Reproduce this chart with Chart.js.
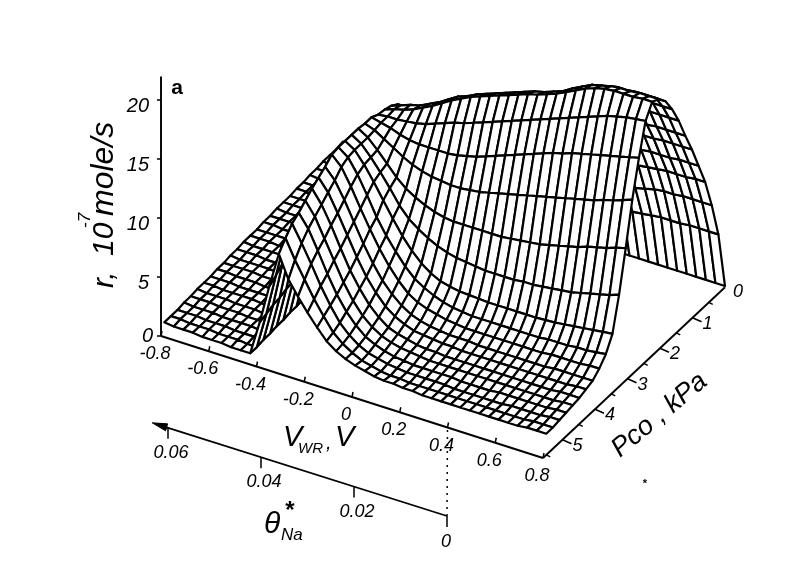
<!DOCTYPE html>
<html lang="en">
<head>
    <meta charset="UTF-8" />
    <title>r vs VWR and Pco</title>
    <script src="https://cdn.jsdelivr.net/npm/chart.js"></script>
    <style>
        html, body { margin: 0; background: #fff; }
        canvas { display: block; }
    </style>
</head>
<body>
    <canvas id="surface" width="789" height="578"></canvas>

    <script>
        const vwrTicks = [-0.8, -0.6, -0.4, -0.2, 0, 0.2, 0.4, 0.6, 0.8];
        const vwrLabels = ["-0.8", "-0.6", "-0.4", "-0.2", "0", "0.2", "0.4", "0.6", "0.8"];
        const pcoTicks = [0, 1, 2, 3, 4, 5];
        const pcoMinorTicks = [0.5, 1.5, 2.5, 3.5, 4.5, 5.5];
        const rateTicks = [0, 5, 10, 15, 20];
        const thetaTicks = [0, 0.02, 0.04, 0.06];
        const thetaLabels = ["0", "0.02", "0.04", "0.06"];

        // mesh: columns are VWR -0.8 to 0.8 (41), rows are Pco 0 to 5.5 kPa (28)
        const vwrFirst = -0.8, vwrStep = 0.04;
        const pcoStep = 5.5 / 27;
        const rates = [
            [2,2,1.9,1.9,1.9,1.8,1.8,1.8,1.7,1.7,1.5,1.1,0.8,0.6,0.5,0.4,0.3,0.3,0.2,0.2,0.2,0.1,0.1,0.1,0.1,0.1,0.1,0.1,0.1,0.1,0.1,0.1,0.1,0.1,0.1,0.1,0.1,0.1,0.1,0.1,0.1],
            [1.9,1.9,1.9,1.8,1.8,1.8,1.7,1.7,1.7,1.7,2,2.5,2.9,3,3,3,3.1,3.2,3.3,3.4,3.5,3.6,3.7,3.8,3.9,4,4,4.1,4.2,4.3,4.5,4.6,4.7,4.8,4.9,4.9,4.9,5,5,5,5],
            [1.9,1.9,1.8,1.8,1.8,1.7,1.7,1.7,1.7,1.6,2.4,3.6,4.7,4.7,4.8,4.8,5,5.1,5.3,5.4,5.6,5.7,5.8,5.9,6,6.1,6.2,6.3,6.4,6.5,7,7.2,7.4,7.6,7.8,7.9,7.9,8,8,8,8],
            [1.9,1.8,1.8,1.8,1.7,1.7,1.7,1.7,1.6,1.6,2.8,4.5,6.2,6.2,6.2,6.3,6.5,6.7,6.9,7.1,7.3,7.5,7.6,7.7,7.9,8,8.1,8.3,8.4,8.5,9.3,9.6,9.9,10.1,10.2,10.3,10.4,10.4,10.4,10.5,10.5],
            [1.8,1.8,1.8,1.7,1.7,1.7,1.6,1.6,1.6,1.6,3,5.3,7.3,7.3,7.4,7.5,7.7,7.9,8.2,8.4,8.6,8.8,9,9.2,9.3,9.5,9.6,9.8,9.9,10,11,11.3,11.7,12,12.2,12.3,12.3,12.3,12.4,12.4,12.4],
            [1.8,1.7,1.7,1.7,1.7,1.6,1.6,1.6,1.6,1.5,3.3,6,8.4,8.5,8.5,8.6,8.9,9.1,9.4,9.7,10,10.2,10.4,10.6,10.7,10.9,11.1,11.3,11.4,11.6,12.8,13.1,13.5,13.8,14,14.2,14.2,14.3,14.3,14.3,14.3],
            [1.7,1.7,1.7,1.7,1.6,1.6,1.6,1.6,1.5,1.5,3.6,6.6,9.4,9.4,9.5,9.6,9.9,10.2,10.5,10.9,11.1,11.4,11.6,11.8,12,12.2,12.4,12.6,12.7,12.9,14.3,14.7,15.1,15.4,15.7,15.9,15.9,16,16,16,16],
            [1.7,1.7,1.6,1.6,1.6,1.6,1.5,1.5,1.5,1.5,3.9,7.3,10.5,10.6,10.7,10.8,11.1,11.4,11.8,12.2,12.5,12.8,13,13.2,13.4,13.7,13.9,14.1,14.3,14.5,16,16.4,16.8,17.2,17.5,17.7,17.7,17.8,17.8,17.8,17.8],
            [1.6,1.6,1.6,1.6,1.5,1.5,1.5,1.5,1.5,1.4,4.2,8,11.6,11.7,11.8,12,12.3,12.6,13,13.4,13.8,14.1,14.4,14.6,14.9,15.1,15.4,15.6,15.8,16,17.6,18,18.4,18.8,19.1,19.2,19.2,19.3,19.3,19.3,19.3],
            [1.6,1.6,1.6,1.5,1.5,1.5,1.5,1.4,1.4,1.4,4.5,8.8,13,13,13.1,13.3,13.7,14,14.4,14.8,15.2,15.5,15.8,16,16.3,16.6,16.8,17.1,17.3,17.5,18.8,19.2,19.6,20,20.2,20.4,20.4,20.5,20.5,20.5,20.5],
            [1.6,1.5,1.5,1.5,1.5,1.4,1.4,1.4,1.4,1.4,4.8,9.2,13.4,13.7,14,14.2,14.6,15,15.5,16,16.3,16.7,17,17.3,17.6,17.9,18.2,18.5,18.7,19,19.3,19.8,20.2,20.6,20.8,21,21.1,21.1,21.2,21.2,21.2],
            [1.5,1.5,1.5,1.5,1.4,1.4,1.4,1.4,1.3,1.3,4.9,9.5,13.6,13.9,14.1,14.4,14.8,15.2,15.7,16.2,16.6,17,17.3,17.6,17.9,18.2,18.5,18.8,19,19.3,19.6,20,20.4,20.8,21.1,21.3,21.4,21.4,21.4,21.5,21.5],
            [1.5,1.5,1.4,1.4,1.4,1.4,1.4,1.3,1.3,1.3,4.9,9.5,13.7,13.8,13.8,13.9,14,14.2,14.5,14.8,15.1,15.3,15.6,15.9,16.2,16.5,16.8,17.1,17.4,17.7,18,18.3,18.6,18.9,19.2,19.5,19.8,20,20.2,20.3,20.4],
            [1.4,1.4,1.4,1.4,1.4,1.3,1.3,1.3,1.3,1.2,4.9,9.5,14,13.8,13.6,13.3,13.1,13,13,13,13,13.1,13.3,13.5,13.8,14.1,14.4,14.7,15,15.3,15.6,15.9,16.1,16.4,16.6,16.8,17,17.2,17.4,17.6,17.8],
            [1.4,1.4,1.4,1.3,1.3,1.3,1.3,1.2,1.2,1.2,4.8,9.4,14,13.7,13.2,12.7,12.2,11.8,11.5,11.3,11.2,11.1,11.1,11.2,11.3,11.5,11.7,11.9,12.1,12.3,12.5,12.7,12.9,13.1,13.3,13.5,13.7,14,14.2,14.5,14.8],
            [1.4,1.3,1.3,1.3,1.3,1.2,1.2,1.2,1.2,1.2,4.8,9.3,14.1,13.6,12.8,11.9,11,10.3,9.8,9.4,9.1,8.9,8.8,8.8,8.8,8.8,8.8,8.8,8.9,9,9.1,9.2,9.4,9.6,9.8,10,10.3,10.5,10.7,11,11.2],
            [1.3,1.3,1.3,1.2,1.2,1.2,1.2,1.1,1.1,1.1,4.7,9.2,14.1,13.6,12.7,11.7,10.6,9.4,8.5,7.9,7.4,7,6.7,6.5,6.4,6.3,6.2,6.2,6.2,6.2,6.3,6.3,6.4,6.5,6.6,6.7,6.9,7.1,7.3,7.5,7.8],
            [1.3,1.2,1.2,1.2,1.2,1.1,1.1,1.1,1.1,1.1,4.7,9.1,14.1,13.6,12.6,11.4,10.1,8.8,7.6,6.6,5.8,5.2,4.8,4.6,4.45,4.4,4.35,4.3,4.3,4.3,4.3,4.3,4.3,4.35,4.4,4.5,4.6,4.7,4.8,4.9,5],
            [1.2,1.2,1.2,1.2,1.1,1.1,1.1,1,1,1,4.6,9,14.1,13.5,12.3,10.8,9.2,7.9,6.8,5.8,5,4.5,4.1,3.8,3.6,3.5,3.4,3.4,3.4,3.4,3.4,3.4,3.4,3.4,3.5,3.5,3.5,3.6,3.6,3.7,3.8],
            [1.2,1.2,1.1,1.1,1.1,1,1,1,1,1,4.5,9,14,13.2,11.8,10.2,8.7,7.3,6.1,5.1,4.3,3.8,3.5,3.3,3.1,3,2.9,2.9,2.9,2.9,2.9,2.9,2.9,2.9,2.9,3,3,3,3,3.1,3.1],
            [1.1,1.1,1.1,1,1,1,1,0.9,0.9,0.9,4.4,8.8,13.5,12.6,11.2,9.6,8,6.6,5.4,4.5,3.8,3.3,3,2.8,2.7,2.6,2.6,2.6,2.5,2.5,2.5,2.5,2.5,2.5,2.5,2.5,2.6,2.6,2.6,2.6,2.6],
            [1.1,1.1,1,1,1,1,0.9,0.9,0.9,0.9,4.4,8.6,13.1,12.1,10.6,9,7.4,6,4.9,4,3.4,3,2.7,2.6,2.5,2.4,2.4,2.3,2.3,2.3,2.3,2.3,2.3,2.3,2.3,2.3,2.3,2.3,2.3,2.4,2.4],
            [1.1,1,1,1,0.9,0.9,0.9,0.8,0.8,0.8,4.3,8.4,12.7,11.6,10.1,8.4,6.8,5.5,4.4,3.6,3,2.7,2.5,2.3,2.2,2.2,2.1,2.1,2.1,2.1,2.1,2.1,2.1,2.1,2.1,2.1,2.1,2.1,2.2,2.2,2.2],
            [1,1,1,0.9,0.9,0.9,0.8,0.8,0.8,0.8,4.2,8.2,12.2,11.1,9.5,7.9,6.3,5,4,3.3,2.8,2.5,2.3,2.2,2.1,2,2,2,2,2,2,2,2,2,2,2,2,2,2,2.1,2.1],
            [1,0.9,0.9,0.9,0.8,0.8,0.8,0.8,0.7,0.7,4,8,11.7,10.6,9,7.3,5.8,4.6,3.7,3,2.6,2.3,2.1,2,1.9,1.9,1.9,1.9,1.9,1.8,1.8,1.8,1.8,1.9,1.9,1.9,1.9,1.9,1.9,2,2],
            [0.9,0.9,0.9,0.8,0.8,0.8,0.7,0.7,0.7,0.7,3.9,7.7,11.3,9.9,8.4,6.8,5.4,4.2,3.4,2.8,2.4,2.2,2,1.9,1.8,1.8,1.8,1.8,1.8,1.7,1.7,1.7,1.7,1.7,1.7,1.8,1.8,1.8,1.8,1.9,1.9],
            [0.9,0.9,0.8,0.8,0.8,0.7,0.7,0.7,0.6,0.6,3.7,7.2,10.6,9,7.6,6.2,5,3.9,3.2,2.7,2.3,2.1,1.9,1.8,1.8,1.7,1.7,1.7,1.7,1.7,1.7,1.7,1.7,1.7,1.7,1.7,1.7,1.7,1.8,1.8,1.8],
            [0.9,0.8,0.8,0.8,0.7,0.7,0.7,0.6,0.6,0.6,3.5,6.8,9.8,7.9,6.7,5.6,4.6,3.7,3.1,2.7,2.4,2.2,2,1.9,1.9,1.8,1.8,1.7,1.7,1.7,1.7,1.7,1.7,1.7,1.7,1.7,1.7,1.7,1.8,1.8,1.8]
        ];

        // oblique projection of the 3D axes onto the page
        const pcoEnd = 5.6;
        function project(v, p, r) {
            return {
                x: 161 + 238.75 * (v + 0.8) + 32.5 * (pcoEnd - p),
                y: 336 + 76.25 * (v + 0.8) - 30.5 * (pcoEnd - p) - 11.8 * r
            };
        }
        function thetaPoint(t) {
            return { x: 447 - 4650 * t, y: 516 - 1470 * t };
        }

        function lineSet(points, width, dash) {
            return {
                data: points, showLine: true, fill: false, pointRadius: 0,
                borderColor: "#000", borderWidth: width || 1.5, borderDash: dash || []
            };
        }

        const datasets = [];

        // axes
        datasets.push(lineSet([project(-0.8, pcoEnd, 0), project(0.8, pcoEnd, 0)], 1.9));
        datasets.push(lineSet([project(0.8, pcoEnd, 0), project(0.8, 0, 0)], 1.9));
        datasets.push(lineSet([project(-0.8, pcoEnd, 0), project(-0.8, pcoEnd, 22)], 1.9));
        vwrTicks.forEach(v => {
            const a = project(v, pcoEnd, 0);
            datasets.push(lineSet([a, { x: a.x + 1, y: a.y - 5 }], 1.5));
        });
        pcoTicks.slice(1).forEach(p => {
            const a = project(0.8, p, 0);
            datasets.push(lineSet([a, { x: a.x + 9, y: a.y + 4 }], 1.5));
        });
        pcoMinorTicks.forEach(p => {
            const a = project(0.8, p, 0);
            datasets.push(lineSet([a, { x: a.x + 4, y: a.y + 2 }], 1.5));
        });
        rateTicks.forEach(r => {
            const a = project(-0.8, pcoEnd, r);
            datasets.push(lineSet([a, { x: a.x - 4, y: a.y }], 1.5));
        });
        datasets.push(lineSet([thetaPoint(0), thetaPoint(0.061)], 1.7));
        thetaTicks.forEach(t => {
            const a = thetaPoint(t);
            datasets.push(lineSet([a, { x: a.x, y: a.y + 11 }], 1.5));
        });
        datasets.push(lineSet([thetaPoint(0), project(0.4, pcoEnd, 0)], 1.5, [2, 5]));
        const arrowTip = thetaPoint(0.0634), arrowBase = thetaPoint(0.0603);
        const arrowHead = [arrowTip, { x: arrowBase.x + 1, y: arrowBase.y - 3.5 }, { x: arrowBase.x - 1, y: arrowBase.y + 3.5 }, arrowTip];
        datasets.push({
            data: arrowHead, showLine: true, fill: "shape", backgroundColor: "#000",
            borderColor: "#000", borderWidth: 1, pointRadius: 0
        });

        // mesh cells, nearest first because chart.js paints the first dataset last
        for (let i = rates[0].length - 2; i >= 0; i--) {
            for (let j = rates.length - 2; j >= 0; j--) {
                const cell = [[i, j], [i + 1, j], [i + 1, j + 1], [i, j + 1], [i, j]];
                datasets.push({
                    data: cell.map(([a, b]) => project(vwrFirst + a * vwrStep, b * pcoStep, rates[b][a])),
                    showLine: true, fill: "shape", backgroundColor: "#fff",
                    borderColor: "#000", borderWidth: 2.2, pointRadius: 0,
                    borderJoinStyle: "round", borderCapStyle: "round"
                });
            }
        }

        const fontFamily = '"Liberation Sans"';

        function text(chart, str, px, py, size, opts) {
            const o = opts || {};
            const ctx = chart.ctx;
            ctx.save();
            ctx.translate(chart.scales.x.getPixelForValue(px), chart.scales.y.getPixelForValue(py));
            ctx.rotate((o.angle || 0) * Math.PI / 180);
            ctx.font = `${o.bold ? "bold" : "italic"} ${size}px ${fontFamily}`;
            ctx.fillStyle = "#000";
            ctx.textAlign = o.align || "center";
            ctx.textBaseline = o.baseline || "middle";
            ctx.fillText(str, 0, 0);
            ctx.restore();
        }

        const labelsPlugin = {
            id: "labels",
            afterDraw(chart) {
                vwrTicks.forEach((v, k) => {
                    const a = project(v, pcoEnd, 0);
                    text(chart, vwrLabels[k], a.x - 6, a.y + 18, 18);
                });
                pcoTicks.forEach(p => {
                    const a = project(0.8, p, 0);
                    text(chart, String(p), a.x + (p ? 15 : 13), a.y + (p ? 6 : 5), 18);
                });
                rateTicks.forEach(r => {
                    const a = project(-0.8, pcoEnd, r);
                    text(chart, String(r), a.x - (r ? 12 : 8), a.y + (r ? 6 : 0), 20, { align: "right" });
                });
                thetaTicks.forEach((t, k) => {
                    const a = thetaPoint(t);
                    text(chart, thetaLabels[k], a.x + (t ? 3 : -1), a.y + (t ? 25 : 26), 18);
                });

                text(chart, "a", 177, 88, 21, { bold: true });

                const rotated = { angle: -90, align: "left", baseline: "alphabetic" };
                text(chart, "r,", 113, 288, 30, rotated);
                text(chart, "10", 113, 256, 30, rotated);
                text(chart, "-7", 90, 228, 17, rotated);
                text(chart, "mole/s", 113, 216, 32, rotated);

                const flat = { align: "left", baseline: "alphabetic" };
                text(chart, "V", 283, 446, 29, flat);
                text(chart, "WR", 298, 453, 15, flat);
                text(chart, ",", 326, 449, 20, flat);
                text(chart, "V", 335, 446, 29, flat);

                text(chart, "Pco , kPa", 620, 458, 27, { angle: -40, align: "left", baseline: "alphabetic" });

                text(chart, "\u03b8", 264, 533, 30, flat);
                text(chart, "*", 290, 518, 24, { bold: true, baseline: "alphabetic" });
                text(chart, "Na", 281, 540, 17, flat);

                text(chart, "*", 645, 484, 11, { bold: true });
            }
        };

        new Chart(document.getElementById("surface"), {
            type: "scatter",
            data: { datasets: datasets },
            plugins: [labelsPlugin],
            options: {
                responsive: false,
                animation: false,
                events: [],
                layout: { padding: 0 },
                plugins: { legend: { display: false }, tooltip: { enabled: false } },
                scales: {
                    x: { type: "linear", display: false, min: 0, max: 789 },
                    y: { type: "linear", display: false, min: 0, max: 578, reverse: true }
                }
            }
        });
    </script>
</body>
</html>
